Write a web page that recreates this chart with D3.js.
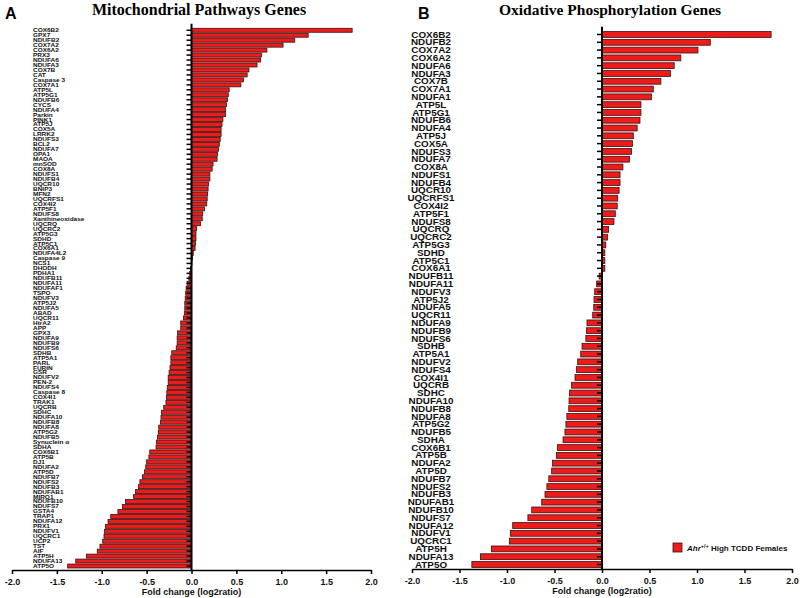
<!DOCTYPE html>
<html><head><meta charset="utf-8">
<script src="https://cdn.jsdelivr.net/npm/d3@7"></script>
<style>body{margin:0;background:#fff}svg{display:block}</style>
</head><body><svg id="c" width="800" height="598"></svg>
<script>
const genesA = ["COX6B2","GPX7","NDUFB2","COX7A2","COX6A2","PRX3","NDUFA6","NDUFA3","COX7B","CAT","Caspase 3","COX7A1","ATP5L","ATP5G1","NDUFB6","CYCS","NDUFA4","Parkin","PINK1","ATP5J","COX5A","LRRK2","NDUFS3","BCL2","NDUFA7","OPA1","MAOA","mnSOD","COX8A","NDUFS1","NDUFB4","UQCR10","BNIP3","MFN2","UQCRFS1","COX4I2","ATP5F1","NDUFS8","Xanthineoxidase","UQCRQ","UQCRC2","ATP5G3","SDHD","ATP5C1","COX6A1","NDUFA4L2","Caspase 9","NCS1","DHODH","PDHA1","NDUFB11","NDUFA11","NDUFAF1","TSPO","NDUFV3","ATP5J2","NDUFA5","ABAD","UQCR11","HtrA2","APP","GPX3","NDUFA9","NDUFB9","NDUFS6","SDHB","ATP5A1","PARL","FURIN","GSR","NDUFV2","PEN-2","NDUFS4","Caspase 8","COX4I1","TRAK1","UQCRB","SDHC","NDUFA10","NDUFB8","NDUFA8","ATP5G2","NDUFB5","Synuclein α","SDHA","COX6B1","ATP5B","DJ1","NDUFA2","ATP5D","NDUFB7","NDUFS2","NDUFB3","NDUFAB1","MIRO1","NDUFB10","NDUFS7","GSTA4","TRAP1","NDUFA12","PRX1","NDUFV1","UQCRC1","UCP2","TST","AIF","ATP5H","NDUFA13","ATP5O"];
const valuesA = [1.79,1.30,1.15,1.02,0.84,0.78,0.77,0.73,0.64,0.62,0.58,0.55,0.42,0.41,0.40,0.39,0.38,0.38,0.35,0.34,0.33,0.33,0.32,0.31,0.30,0.29,0.285,0.24,0.23,0.205,0.205,0.19,0.185,0.18,0.175,0.17,0.145,0.125,0.12,0.10,0.058,0.05,0.05,0.045,0.04,0.02,0.01,0.005,-0.01,-0.02,-0.03,-0.05,-0.06,-0.065,-0.07,-0.075,-0.075,-0.08,-0.09,-0.12,-0.12,-0.155,-0.16,-0.16,-0.17,-0.22,-0.23,-0.23,-0.24,-0.25,-0.26,-0.26,-0.27,-0.275,-0.28,-0.285,-0.31,-0.335,-0.34,-0.345,-0.365,-0.37,-0.38,-0.39,-0.395,-0.465,-0.475,-0.50,-0.51,-0.525,-0.545,-0.575,-0.59,-0.625,-0.645,-0.735,-0.77,-0.82,-0.90,-0.93,-0.96,-0.97,-0.975,-0.99,-1.02,-1.05,-1.17,-1.29,-1.38];
const genesB = ["COX6B2","NDUFB2","COX7A2","COX6A2","NDUFA6","NDUFA3","COX7B","COX7A1","NDUFA1","ATP5L","ATP5G1","NDUFB6","NDUFA4","ATP5J","COX5A","NDUFS3","NDUFA7","COX8A","NDUFS1","NDUFB4","UQCR10","UQCRFS1","COX4I2","ATP5F1","NDUFS8","UQCRQ","UQCRC2","ATP5G3","SDHD","ATP5C1","COX6A1","NDUFB11","NDUFA11","NDUFV3","ATP5J2","NDUFA5","UQCR11","NDUFA9","NDUFB9","NDUFS6","SDHB","ATP5A1","NDUFV2","NDUFS4","COX4I1","UQCRB","SDHC","NDUFA10","NDUFB8","NDUFA8","ATP5G2","NDUFB5","SDHA","COX6B1","ATP5B","NDUFA2","ATP5D","NDUFB7","NDUFS2","NDUFB3","NDUFAB1","NDUFB10","NDUFS7","NDUFA12","NDUFV1","UQCRC1","ATP5H","NDUFA13","ATP5O"];
const valuesB = [1.78,1.14,1.01,0.83,0.76,0.72,0.62,0.54,0.52,0.41,0.41,0.40,0.37,0.33,0.32,0.31,0.29,0.22,0.19,0.19,0.18,0.165,0.16,0.14,0.126,0.07,0.057,0.04,0.03,0.03,0.03,-0.03,-0.056,-0.077,-0.084,-0.087,-0.098,-0.158,-0.164,-0.17,-0.21,-0.224,-0.256,-0.27,-0.284,-0.32,-0.343,-0.347,-0.35,-0.37,-0.38,-0.39,-0.41,-0.47,-0.48,-0.52,-0.53,-0.56,-0.58,-0.60,-0.635,-0.74,-0.78,-0.94,-0.965,-0.975,-1.165,-1.28,-1.37];
const xTicks = [-2.0,-1.5,-1.0,-0.5,0.0,0.5,1.0,1.5,2.0];
const titleA = "Mitochondrial Pathways Genes";
const titleB = "Oxidative Phosphorylation Genes";
const xLabel = "Fold change (log2ratio)";

const svg = d3.select("#c");
const SANS = "'Liberation Sans', Arial, sans-serif";
const SERIF = "'Liberation Serif', 'Times New Roman', serif";

function panel(opts){
  const {genes, values, xRange, yRange, pad, labelX, anchor, fontSize, stretch, axisY, barStroke} = opts;
  const g = svg.append("g");
  const x = d3.scaleLinear().domain([-2,2]).range(xRange);
  const y = d3.scaleBand().domain(genes).range(yRange).paddingInner(pad).paddingOuter(0.1);
  const data = genes.map((n,i)=>({n, v: values[i]}));
  g.append("g").selectAll("rect").data(data).join("rect")
    .attr("x", d=>x(Math.min(0,d.v)))
    .attr("y", d=>y(d.n))
    .attr("width", d=>Math.abs(x(d.v)-x(0)))
    .attr("height", y.bandwidth())
    .attr("fill", "#ee1b1b")
    .attr("stroke", barStroke)
    .attr("stroke-width", 0.8);
  const ya = g.append("g").attr("transform", `translate(${x(0)},0)`)
    .call(d3.axisLeft(y).tickSize(5).tickSizeOuter(0).tickFormat(""));
  ya.select(".domain").remove();
  ya.selectAll("line").attr("stroke","#000").attr("stroke-width",1.5);
  g.append("line").attr("x1",x(0)).attr("x2",x(0)).attr("y1",yRange[0]-4).attr("y2",axisY)
    .attr("stroke","#000").attr("stroke-width",2);
  g.append("g").attr("transform", `translate(${labelX},0) scale(${stretch},1)`)
    .selectAll("text").data(data).join("text")
    .attr("x", 0)
    .attr("y", d=>y(d.n)+y.bandwidth()/2)
    .attr("dy","0.36em")
    .attr("text-anchor", anchor)
    .attr("font-family", SANS).attr("font-weight","bold")
    .attr("font-size", fontSize).attr("fill","#111")
    .text(d=>d.n);
  const xa = g.append("g").attr("transform", `translate(0,${axisY})`)
    .call(d3.axisBottom(x).tickValues(xTicks).tickSize(4).tickSizeOuter(0).tickFormat(d=>d.toFixed(1)));
  xa.select(".domain").attr("stroke","#000").attr("stroke-width",1.5);
  xa.selectAll("line").attr("stroke","#000").attr("stroke-width",1.5);
  xa.selectAll("text").attr("font-family",SANS).attr("font-weight","bold").attr("font-size",9).attr("fill","#111").attr("dy","0.9em");
  g.append("text").attr("x", x(0)).attr("y", axisY+25).attr("text-anchor","middle")
    .attr("font-family",SANS).attr("font-weight","bold").attr("font-size",9).attr("fill","#111").text(xLabel);
  return {x,y};
}

panel({genes:genesA, values:valuesA, xRange:[12,371], yRange:[27.8,568.5], pad:0.2, labelX:33, anchor:"start", fontSize:5.4, stretch:1.2, axisY:570, barStroke:"#3a1010"});
panel({genes:genesB, values:valuesB, xRange:[412,792], yRange:[30.8,568.2], pad:0.25, labelX:431, anchor:"middle", fontSize:8.6, stretch:1.15, axisY:569, barStroke:"#3a1010"});

svg.append("text").attr("x",5).attr("y",19).attr("font-family",SANS).attr("font-weight","bold").attr("font-size",16).text("A");
svg.append("text").attr("x",418).attr("y",19).attr("font-family",SANS).attr("font-weight","bold").attr("font-size",16).text("B");
svg.append("text").attr("x",199).attr("y",15).attr("text-anchor","middle").attr("font-family",SERIF).attr("font-weight","bold").attr("font-size",16).text(titleA);
svg.append("text").attr("x",610).attr("y",15).attr("text-anchor","middle").attr("font-family",SERIF).attr("font-weight","bold").attr("font-size",15.5).text(titleB);

const lg = svg.append("g");
lg.append("rect").attr("x",673).attr("y",543).attr("width",9).attr("height",9).attr("fill","#ee1b1b").attr("stroke","#3a1010").attr("stroke-width",0.8);
const lt = lg.append("text").attr("x",687).attr("y",551).attr("font-family",SANS).attr("font-weight","bold").attr("font-size",8).attr("fill","#111");
lt.append("tspan").attr("font-style","italic").text("Ahr");
lt.append("tspan").attr("dy",-3).attr("font-size",5.5).text("+/+");
lt.append("tspan").attr("dy",3).text(" High TCDD Females");
</script></body></html>
